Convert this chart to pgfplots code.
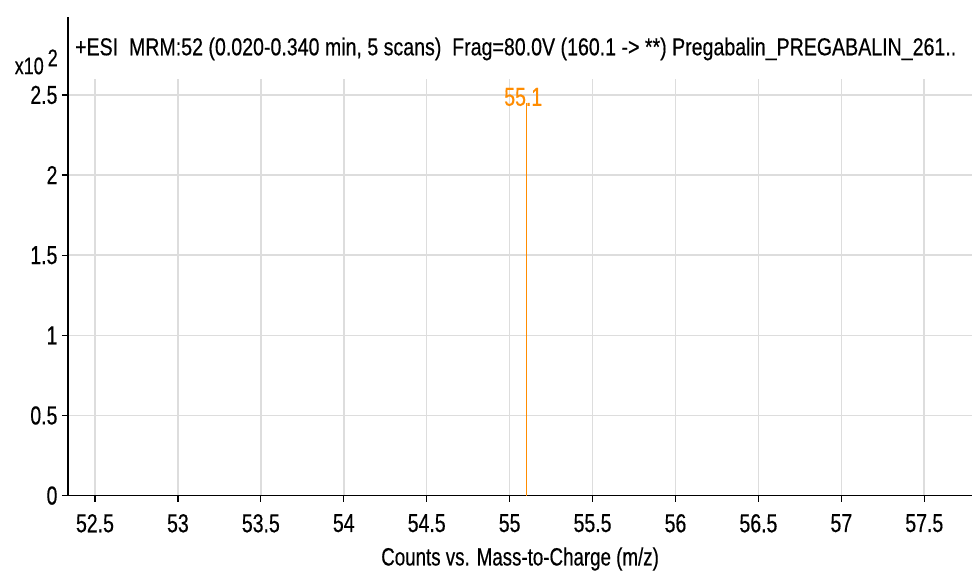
\documentclass[border=0pt]{standalone}
\usepackage{fontspec}
\setmainfont{Liberation Sans}[FakeStretch=0.75, FakeBold=0.4]
\newfontfamily\titlefont{Liberation Sans}[FakeStretch=0.8, FakeBold=0.4]
\usepackage{pgfplots}
\pgfplotsset{compat=1.18}
\definecolor{peak}{RGB}{255,140,0}
\definecolor{gridc}{RGB}{221,221,221}
\newcommand\tk{\fontsize{26}{26}\selectfont}
\begin{document}
\begin{tikzpicture}
\begin{axis}[
  name=ax,
  scale only axis, width=905pt, height=417pt,
  xmin=52.337, xmax=57.789, ymin=0, ymax=2.6,
  axis x line*=bottom, axis y line*=left,
  axis line style={-, black, line width=1.6pt},
  xtick={52.5,53,53.5,54,54.5,55,55.5,56,56.5,57,57.5},
  ytick={0,0.5,1,1.5,2,2.5},
  xticklabels={52.5,53,53.5,54,54.5,55,55.5,56,56.5,57,57.5},
  yticklabels={0,0.5,1,1.5,2,2.5},
  grid=major, major grid style={gridc, line width=1.6pt},
  tick align=outside, major tick length=6pt,
  tick style={black, line width=1.3pt},
  xticklabel style={font=\tk, yshift=-9pt},
  yticklabel style={font=\tk, xshift=-1pt},
  xlabel={Counts vs. Mass-to-Charge (m/z)},
  xlabel style={font=\fontsize{25}{25}\selectfont, yshift=-8pt},
  clip=false,
  point meta=explicit symbolic,
]
\addplot[ycomb, draw=peak, line width=1.4pt, mark=none,
  nodes near coords, every node near coord/.style={peak, font=\tk, anchor=center, xshift=-3pt, yshift=6pt}]
  coordinates {(55.1,2.45) [55.1]};
\draw[black, line width=1.6pt] (rel axis cs:0,1) -- ([yshift=62pt]rel axis cs:0,1);
\node[anchor=west, font=\titlefont\fontsize{24.5}{25}\selectfont, inner sep=0pt] at ([xshift=7pt,yshift=30pt]rel axis cs:0,1)
  {+ESI\ \ MRM:52 (0.020-0.340 min, 5 scans)\ \ Frag=80.0V (160.1 -{}> **)\ Pregabalin\_PREGABALIN\_261..};
\node[anchor=east, font=\fontsize{24}{24}\selectfont, inner sep=0pt] at ([xshift=-10pt,yshift=17pt]rel axis cs:0,1)
  {x10\,\raisebox{8pt}{2}};
\end{axis}
\useasboundingbox ([xshift=-68pt,yshift=-79pt]ax.south west) rectangle ([yshift=79pt]ax.north east);
\end{tikzpicture}
\end{document}
